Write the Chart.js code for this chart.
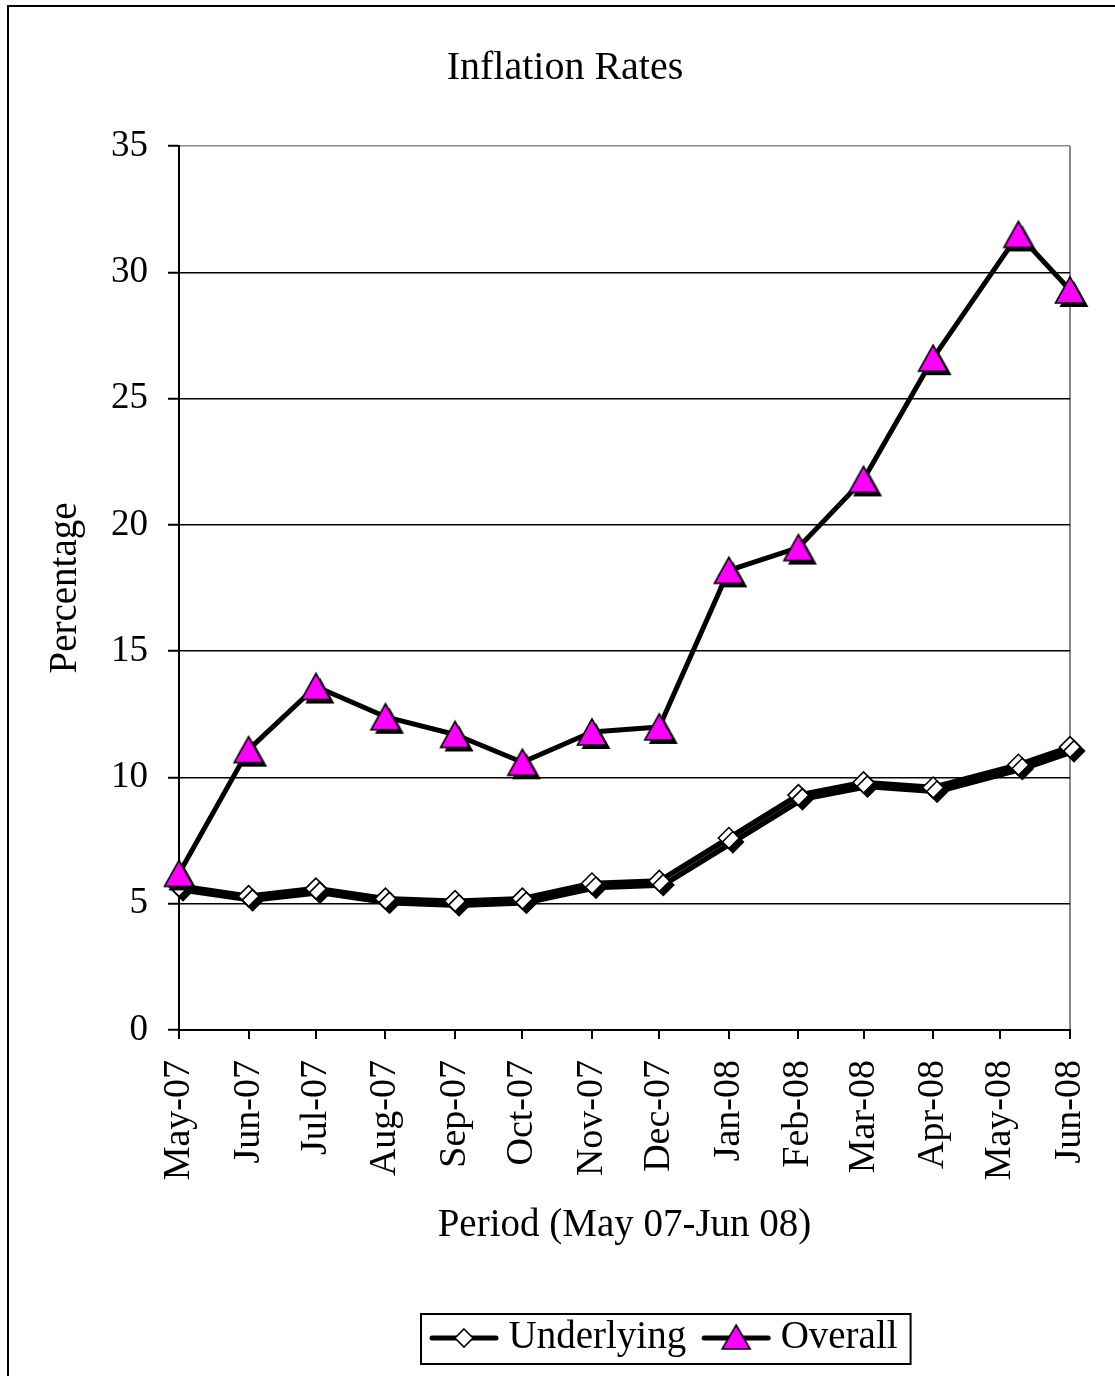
<!DOCTYPE html>
<html>
<head>
<meta charset="utf-8">
<title>Inflation Rates</title>
<script src="https://cdn.jsdelivr.net/npm/chart.js@4.4.1/dist/chart.umd.min.js"></script>
<style>
  html, body { margin: 0; padding: 0; background: #fff; overflow: hidden; }
  canvas { display: block; }
</style>
</head>
<body>
<canvas id="myChart" width="1115" height="1376"></canvas>
<script>
// tick labels and the first day of each month they mark
const monthLabels = ['May-07', 'Jun-07', 'Jul-07', 'Aug-07', 'Sep-07', 'Oct-07', 'Nov-07',
  'Dec-07', 'Jan-08', 'Feb-08', 'Mar-08', 'Apr-08', 'May-08', 'Jun-08'];
const monthStarts = ['2007-05-01', '2007-06-01', '2007-07-01', '2007-08-01', '2007-09-01',
  '2007-10-01', '2007-11-01', '2007-12-01', '2008-01-01', '2008-02-01', '2008-03-01',
  '2008-04-01', '2008-05-01', '2008-06-01'];

// dates of the readings (the May-08 one sits a little after the month start)
const pointDates = ['2007-05-01', '2007-06-01', '2007-07-01', '2007-08-01', '2007-09-01',
  '2007-10-01', '2007-11-01', '2007-12-01', '2008-01-01', '2008-02-01', '2008-03-01',
  '2008-04-01', '2008-05-09', '2008-06-01'];

const underlying = [5.7, 5.3, 5.6, 5.2, 5.1, 5.2, 5.8, 5.9, 7.6, 9.3, 9.8, 9.6, 10.5, 11.2];
const overall = [6.2, 11.1, 13.6, 12.4, 11.7, 10.6, 11.8, 12.0, 18.2, 19.1, 21.8, 26.6, 31.5, 29.3];

const yTicks = [0, 5, 10, 15, 20, 25, 30, 35];

const FONT = '"Liberation Serif", "Times New Roman", serif';
const MAGENTA = '#FF00FF';

// days since the first month start
const t0 = Date.parse(monthStarts[0]);
const dayNum = s => (Date.parse(s) - t0) / 86400000;

// triangle marker with its drop shadow
function triangleMarker(withShadow) {
  const c = document.createElement('canvas');
  c.width = 50; c.height = 50;
  const g = c.getContext('2d');
  const tri = (dx, dy) => {
    g.beginPath();
    g.moveTo(25 + dx, 12 + dy);
    g.lineTo(39.5 + dx, 38 + dy);
    g.lineTo(10.5 + dx, 38 + dy);
    g.closePath();
  };
  if (withShadow) {
    tri(4, 4);
    g.fillStyle = '#000';
    g.fill();
  }
  tri(0, 0);
  g.fillStyle = MAGENTA;
  g.fill();
  g.lineWidth = 1.6;
  g.strokeStyle = '#000';
  g.stroke();
  return c;
}

// legend sample: thick line with the marker in the middle
function legendSample(kind) {
  const c = document.createElement('canvas');
  c.width = 72; c.height = 40;
  const g = c.getContext('2d');
  g.strokeStyle = '#000';
  g.lineWidth = 5;
  g.lineCap = 'round';
  g.beginPath();
  g.moveTo(4, 20); g.lineTo(68, 20);
  g.stroke();
  g.lineWidth = 1.6;
  g.beginPath();
  if (kind === 'diamond') {
    g.moveTo(36, 11); g.lineTo(45, 20); g.lineTo(36, 29); g.lineTo(27, 20);
    g.closePath();
    g.fillStyle = '#fff';
  } else {
    g.moveTo(36, 7); g.lineTo(50, 31); g.lineTo(22, 31);
    g.closePath();
    g.fillStyle = MAGENTA;
  }
  g.fill();
  g.stroke();
  return c;
}

const triImg = triangleMarker(true);
const legendImgs = [legendSample('diamond'), legendSample('triangle')];

const underlyingPts = underlying.map((v, i) => ({ x: dayNum(pointDates[i]), y: v }));
const overallPts = overall.map((v, i) => ({ x: dayNum(pointDates[i]), y: v }));

// page frame, drop shadow for the Underlying series, legend placement and box
const framePlugin = {
  id: 'frame',
  beforeDraw(chart) {
    const ctx = chart.ctx;
    ctx.save();
    ctx.fillStyle = '#fff';
    ctx.fillRect(0, 0, chart.width, chart.height);
    ctx.strokeStyle = '#000';
    ctx.lineWidth = 2;
    ctx.strokeRect(8, 6, 1400, 1600);
    ctx.restore();
  },
  afterLayout(chart) {
    chart.titleBlock.left += 20;
    chart.titleBlock.right += 20;
    const lg = chart.legend;
    const pad = lg.options.labels.padding;
    const x0 = (lg.left + pad + lg.right - lg.lineWidths[0]) / 2;
    const s = 439 - x0;
    lg.left += s;
    lg.right += s;
  },
  beforeDatasetDraw(chart, args) {
    if (args.index !== 0) return;
    const ctx = chart.ctx;
    ctx.save();
    ctx.shadowColor = '#000';
    ctx.shadowOffsetX = 4;
    ctx.shadowOffsetY = 4;
    ctx.shadowBlur = 0;
  },
  afterDatasetDraw(chart, args) {
    if (args.index === 0) chart.ctx.restore();
  },
  afterDraw(chart) {
    const lg = chart.legend;
    const pad = lg.options.labels.padding;
    const fs = lg.options.labels.font.size;
    const x0 = (lg.left + pad + lg.right - lg.lineWidths[0]) / 2;
    const rowEnd = x0 + lg.lineWidths[0] - pad;
    const cy = lg.top + pad + fs / 2;
    const ctx = chart.ctx;
    ctx.save();
    ctx.strokeStyle = '#000';
    ctx.lineWidth = 2;
    ctx.strokeRect(x0 - 18, cy - 24, rowEnd - x0 + 31, 50);
    ctx.restore();
  }
};

const ctx = document.getElementById('myChart').getContext('2d');

new Chart(ctx, {
  type: 'line',
  data: {
    datasets: [{
      label: 'Underlying',
      data: underlyingPts,
      order: 1,
      borderColor: '#000',
      borderWidth: 5.5,
      borderJoinStyle: 'round',
      borderCapStyle: 'round',
      pointStyle: 'rectRot',
      pointRadius: 10.5,
      pointBackgroundColor: '#fff',
      pointBorderColor: '#000',
      pointBorderWidth: 1.6,
      clip: false
    }, {
      label: 'Overall',
      data: overallPts,
      order: 0,
      borderColor: '#000',
      borderWidth: 5,
      borderJoinStyle: 'round',
      borderCapStyle: 'round',
      pointStyle: triImg,
      pointRadius: 16,
      clip: false
    }]
  },
  options: {
    responsive: false,
    animation: false,
    devicePixelRatio: 1,
    events: [],
    layout: { padding: { left: 20, right: 45, top: 0, bottom: 8.5 } },
    plugins: {
      tooltip: { enabled: false },
      title: {
        display: true,
        text: 'Inflation Rates',
        color: '#000',
        font: { family: FONT, size: 40, weight: 'normal' },
        padding: { top: 44, bottom: 54 }
      },
      legend: {
        position: 'bottom',
        labels: {
          usePointStyle: true,
          pointStyleWidth: 50,
          padding: 25,
          color: '#000',
          font: { family: FONT, size: 39 },
          generateLabels: chart => chart.data.datasets.map((ds, i) => ({
            text: ds.label,
            pointStyle: legendImgs[i],
            datasetIndex: i,
            hidden: false,
            lineWidth: 0,
            fontColor: '#000'
          }))
        }
      }
    },
    scales: {
      x: {
        type: 'linear',
        min: 0,
        max: dayNum(monthStarts[monthStarts.length - 1]),
        afterBuildTicks: scale => {
          scale.ticks = monthStarts.map(d => ({ value: dayNum(d) }));
        },
        afterFit: scale => {
          scale.height = 263.5;
          scale.paddingLeft = 0;
          scale.paddingRight = 0;
        },
        ticks: {
          autoSkip: false,
          minRotation: 90,
          maxRotation: 90,
          padding: 21,
          color: '#000',
          font: { family: FONT, size: 38 },
          callback: (value, index) => monthLabels[index]
        },
        grid: {
          color: c => (c.index === monthStarts.length - 1 ? '#888' : 'rgba(0,0,0,0)'),
          lineWidth: 2,
          tickColor: '#000',
          tickWidth: 2,
          tickLength: 9
        },
        border: { color: '#000', width: 2 },
        title: {
          display: true,
          text: 'Period (May 07-Jun 08)',
          color: '#000',
          font: { family: FONT, size: 39 },
          padding: { top: 0, bottom: 44 }
        }
      },
      y: {
        min: 0,
        max: 35,
        afterBuildTicks: scale => {
          scale.ticks = yTicks.map(v => ({ value: v }));
        },
        afterFit: scale => { scale.width = 159; },
        ticks: {
          padding: 20,
          color: '#000',
          font: { family: FONT, size: 37 }
        },
        grid: {
          color: c => (c.tick && c.tick.value === 35 ? '#888' : '#000'),
          lineWidth: 1.5,
          tickColor: '#000',
          tickWidth: 2,
          tickLength: 11
        },
        border: { color: '#000', width: 2 },
        title: {
          display: true,
          text: 'Percentage',
          color: '#000',
          font: { family: FONT, size: 39 },
          padding: { top: 22.6, bottom: 0 }
        }
      }
    }
  },
  plugins: [framePlugin]
});
</script>
</body>
</html>
